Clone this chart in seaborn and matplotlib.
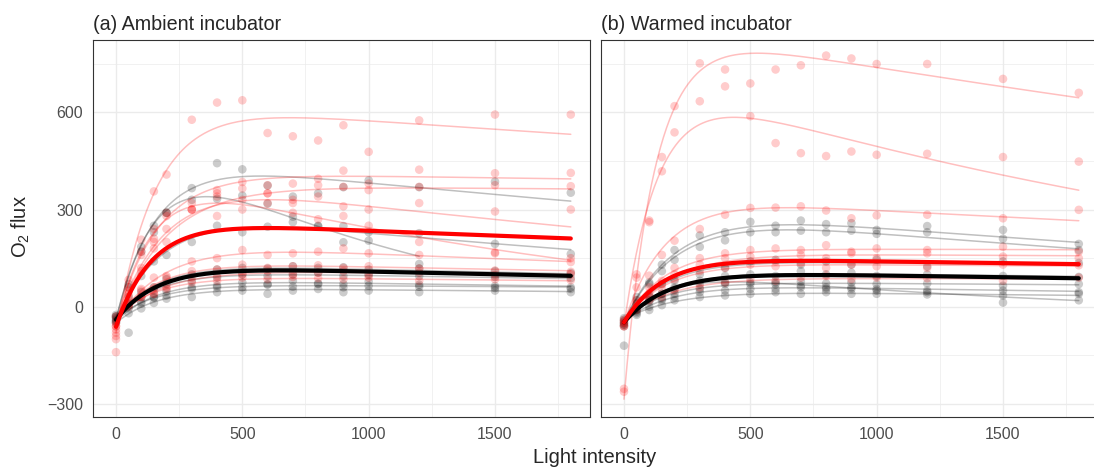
import numpy as np
import pandas as pd
import matplotlib
matplotlib.use("Agg")
import matplotlib.pyplot as plt
import seaborn as sns

# ---------------- data ----------------
light = [0, 50, 100, 150, 200, 300, 400, 500, 600, 700, 800, 900, 1000, 1200, 1500, 1800]
nan = np.nan

# (a) Ambient incubator - black replicates (O2 flux at each light level)
amb_b1 = [-35, 60, 170, 250, 290, 366, 443, 424, 374, 340, 350, 369, 390, 369, 386, 352]
amb_b2 = [-45, 70, 185, 230, 290, 330, 333, 343, 318, 261, 250, 199, 204, 132, nan, nan]
amb_b3 = [-30, 30, 95, 140, 160, 200, 250, 230, 247, 278, 248, 249, 230, 227, 194, 163]
amb_b4 = [-30, 5, 45, 60, 85, 100, 115, 120, 118, 125, 120, 122, 115, 118, 110, 104]
amb_b5 = [-40, 10, 30, 50, 70, 80, 90, 100, 95, 100, 105, 95, 98, 95, 92, 88]
amb_b6 = [-50, -20, 15, 28, 48, 60, 65, 75, 70, 80, 72, 70, 78, 68, 64, 60]
amb_b7 = [-25, -5, 10, 30, 35, 55, 60, 60, 68, 62, 70, 60, 65, 62, 58, 55]
amb_b8 = [-45, -80, -5, 12, 25, 30, 45, 50, 40, 50, 55, 45, 50, 45, 50, 45]

# (a) Ambient incubator - red replicates
amb_r1 = [-100, 83, 207, 356, 408, 577, 630, 637, 536, 526, 513, 560, 478, 575, 593, 593]
amb_r2 = [-60, 60, 170, 210, 280, 320, 360, 385, 375, 380, 395, 420, 380, 423, 412, 413]
amb_r3 = [-90, 50, 110, 180, 200, 300, 340, 365, 350, 330, 375, 370, 360, 370, 375, 372]
amb_r4 = [-70, 30, 120, 200, 240, 300, 280, 330, 350, 320, 340, 310, 300, 320, 294, 300]
amb_r5 = [-140, 40, 160, 240, 290, 300, 350, 300, 320, 290, 270, 280, 250, 200, 165, 150]
amb_r6 = [-50, 10, 55, 90, 95, 140, 150, 175, 160, 165, 170, 180, 165, 160, 168, 138]
amb_r7 = [-60, 20, 50, 60, 90, 110, 115, 130, 120, 125, 128, 120, 125, 118, 112, 108]
amb_r8 = [-80, 0, 30, 40, 55, 90, 95, 100, 110, 100, 105, 110, 100, 105, 98, 100]
amb_r9 = [-30, 5, 30, 40, 60, 75, 80, 90, 85, 92, 88, 85, 90, 80, 85, 82]

# (b) Warmed incubator - red replicates
wrm_r1 = [-253, 100, 261, 462, 619, 751, 732, 689, 732, 745, 775, 766, 749, 749, 703, 660]
wrm_r2 = [-262, 90, 266, 418, 538, 634, 680, 588, 505, 474, 465, 479, 469, 472, 462, 448]
wrm_r3 = [-60, 60, 96, 160, 204, 240, 284, 305, 306, 310, 297, 273, 282, 284, 273, 299]
wrm_r4 = [-50, 20, 60, 80, 120, 150, 165, 175, 180, 175, 190, 170, 180, 175, 185, 170]
wrm_r5 = [-60, 10, 40, 70, 100, 130, 150, 155, 140, 160, 150, 165, 150, 165, 155, 150]
wrm_r6 = [-40, 0, 30, 55, 85, 110, 120, 130, 125, 135, 120, 130, 125, 120, 130, 128]
wrm_r7 = [-45, -10, 20, 30, 50, 60, 75, 85, 80, 90, 95, 85, 90, 88, 80, 90]

# (b) Warmed incubator - black replicates
wrm_b1 = [-55, 30, 75, 130, 175, 220, 230, 262, 250, 266, 255, 258, 237, 249, 237, 194]
wrm_b2 = [-60, 20, 70, 110, 145, 185, 205, 230, 230, 235, 230, 235, 225, 230, 210, 175]
wrm_b3 = [-50, -20, 0, 20, 30, 45, 50, 55, 55, 60, 55, 60, 55, 50, 50, 45]
wrm_b4 = [-45, -25, -10, 5, 20, 30, 35, 40, 45, 40, 45, 40, 40, 38, 35, 40]
wrm_b5 = [-120, -10, 20, 40, 55, 70, 75, 70, 75, 65, 60, 55, 50, 45, 13, 20]
wrm_b6 = [-40, 10, 35, 70, 80, 100, 120, 140, 145, 130, 140, 130, 145, 125, 140, 135]
wrm_b7 = [-55, -5, 30, 40, 60, 80, 95, 100, 95, 110, 100, 105, 95, 100, 95, 92]
wrm_b8 = [-35, -15, 15, 25, 40, 55, 70, 75, 70, 78, 72, 75, 70, 72, 65, 70]

# Fitted light-response curve parameters (respiration R, gross max G,
# initial-slope rate k, photoinhibition rate d, last light level fitted)
amb_b_R = [-40, -40, -40, -35, -30, -45, -35, -50]
amb_b_G = [506, 652, 352, 170, 140, 130, 105, 110]
amb_b_k = [0.0062, 0.005, 0.005, 0.006, 0.006, 0.006, 0.006, 0.006]
amb_b_d = [0.00018, 0.001, 0.00027, 0.00012, 0.0001, 0.0001, 0.00005, 0.00007]
amb_b_end = [1800, 1200, 1800, 1800, 1800, 1800, 1800, 1800]

amb_r_R = [-80, -50, -50, -50, -60, -45, -35, -40, -30]
amb_r_G = [712, 465, 425, 465, 501, 246, 175, 155, 125]
amb_r_k = [0.0063, 0.006, 0.005, 0.005, 0.0065, 0.005, 0.006, 0.0055, 0.006]
amb_r_d = [0.000084, 0.000025, 0.000015, 0.00025, 0.0005, 0.00016, 0.0001, 0.00006, 0.00007]

wrm_r_R = [-285, -60, -50, -45, -50, -45, -40]
wrm_r_G = [1154, 788, 393, 225, 215, 180, 130]
wrm_r_k = [0.008, 0.007, 0.006, 0.006, 0.0055, 0.006, 0.0055]
wrm_r_d = [0.00012, 0.00035, 0.000122, 0.00001, 0.00002, 0.00003, 0.00002]

wrm_b_R = [-45, -45, -45, -40, -50, -45, -45, -40]
wrm_b_G = [362, 351, 115, 90, 170, 190, 155, 118]
wrm_b_k = [0.0046, 0.0045, 0.0055, 0.005, 0.006, 0.006, 0.006, 0.006]
wrm_b_d = [0.00022, 0.00025, 0.00012, 0.0001, 0.0005, 0.00005, 0.00006, 0.00005]

# mean (population) fits: R, G, k, d
amb_mean_black = [-40, 168, 0.006, 0.00012]
amb_mean_red = [-62, 330, 0.00697, 0.000106]
wrm_mean_black = [-48, 157, 0.0058, 0.00008]
wrm_mean_red = [-48, 200, 0.0065, 0.00006]

# ---------------- build tables ----------------
def curve(R, G, k, d, end=1800, n=300):
    x = np.linspace(0, end, n)
    y = R + G * (1 - np.exp(-k * x)) * np.exp(-d * x)
    return x, y

pts_rows = []
def add_pts(panel, group, name, vals):
    for L, v in zip(light, vals):
        if not np.isnan(v):
            pts_rows.append((panel, group, name, L, v))

for i, v in enumerate([amb_b1, amb_b2, amb_b3, amb_b4, amb_b5, amb_b6, amb_b7, amb_b8]):
    add_pts("a", "black", f"ab{i}", v)
for i, v in enumerate([amb_r1, amb_r2, amb_r3, amb_r4, amb_r5, amb_r6, amb_r7, amb_r8, amb_r9]):
    add_pts("a", "red", f"ar{i}", v)
for i, v in enumerate([wrm_b1, wrm_b2, wrm_b3, wrm_b4, wrm_b5, wrm_b6, wrm_b7, wrm_b8]):
    add_pts("b", "black", f"wb{i}", v)
for i, v in enumerate([wrm_r1, wrm_r2, wrm_r3, wrm_r4, wrm_r5, wrm_r6, wrm_r7]):
    add_pts("b", "red", f"wr{i}", v)
pts = pd.DataFrame(pts_rows, columns=["panel", "group", "rep", "light", "flux"])

cur_rows = []
def add_curves(panel, group, tag, Rs, Gs, ks, ds, ends=None):
    for i in range(len(Rs)):
        end = ends[i] if ends is not None else 1800
        x, y = curve(Rs[i], Gs[i], ks[i], ds[i], end)
        for a, b in zip(x, y):
            cur_rows.append((panel, group, f"{tag}{i}", a, b))

add_curves("a", "black", "ab", amb_b_R, amb_b_G, amb_b_k, amb_b_d, amb_b_end)
add_curves("a", "red", "ar", amb_r_R, amb_r_G, amb_r_k, amb_r_d)
add_curves("b", "black", "wb", wrm_b_R, wrm_b_G, wrm_b_k, wrm_b_d)
add_curves("b", "red", "wr", wrm_r_R, wrm_r_G, wrm_r_k, wrm_r_d)
curves = pd.DataFrame(cur_rows, columns=["panel", "group", "rep", "light", "flux"])

mean_rows = []
for panel, group, p in [("a", "black", amb_mean_black), ("a", "red", amb_mean_red),
                        ("b", "black", wrm_mean_black), ("b", "red", wrm_mean_red)]:
    x, y = curve(*p)
    for a, b in zip(x, y):
        mean_rows.append((panel, group, a, b))
means = pd.DataFrame(mean_rows, columns=["panel", "group", "light", "flux"])

# ---------------- plot ----------------
sns.set_theme(style="white")
plt.rcParams['font.family'] = ['Liberation Sans', 'DejaVu Sans']
plt.rcParams['mathtext.default'] = 'regular'

W, H = 1094, 470
fig = plt.figure(figsize=(W / 100, H / 100), dpi=100)
ax1 = fig.add_axes([93 / W, 53 / H, 497 / W, 377 / H])
ax2 = fig.add_axes([601 / W, 53 / H, 497 / W, 377 / H])

pal = {"black": "black", "red": "red"}
for ax, panel in [(ax1, "a"), (ax2, "b")]:
    ax.set_facecolor("white")
    ax.set_xlim(-91, 1876)
    ax.set_ylim(-340, 823)
    ax.set_xticks([0, 500, 1000, 1500])
    ax.set_xticks([250, 750, 1250, 1750], minor=True)
    ax.set_yticks([-300, 0, 300, 600])
    ax.set_yticks([-150, 150, 450, 750], minor=True)
    ax.grid(True, which="major", color="#EBEBEB", lw=1.0)
    ax.grid(True, which="minor", color="#EBEBEB", lw=0.5)
    ax.set_axisbelow(True)
    for s in ax.spines.values():
        s.set_color("#333333")
        s.set_linewidth(0.8)
    ax.tick_params(which="major", direction="out", length=3.6, width=0.8,
                   color="#333333", labelsize=11.5, labelcolor="#4D4D4D", pad=3.4)
    ax.tick_params(which="minor", length=0)

    sns.scatterplot(data=pts[pts.panel == panel], x="light", y="flux", hue="group",
                    palette=pal, alpha=0.2, s=38, linewidth=0, legend=False, ax=ax, zorder=2)
    sns.lineplot(data=curves[curves.panel == panel], x="light", y="flux", hue="group",
                 units="rep", estimator=None, palette=pal, alpha=0.25, lw=1.1,
                 legend=False, ax=ax, sort=False, zorder=3)
    m = means[means.panel == panel]
    sns.lineplot(data=m[m.group == "black"], x="light", y="flux", color="black",
                 lw=3.0, legend=False, ax=ax, sort=False, zorder=4)
    sns.lineplot(data=m[m.group == "red"], x="light", y="flux", color="red",
                 lw=3.0, legend=False, ax=ax, sort=False, zorder=5)
    ax.set_xlabel("")
    ax.set_ylabel("")

ax2.tick_params(axis="y", which="both", left=False, labelleft=False)

fig.text(93 / W, 1 - 30 / H, "(a) Ambient incubator", ha="left", va="baseline", fontsize=14.2)
fig.text(601 / W, 1 - 30 / H, "(b) Warmed incubator", ha="left", va="baseline", fontsize=14.2)
fig.text(595 / W, 1 - 463 / H, "Light intensity", ha="center", va="baseline", fontsize=14.5)
fig.text(21 / W, 1 - 227 / H, "O$_2$ flux", ha="center", va="center", rotation=90, fontsize=14.5)

fig.savefig("out.png", dpi=100)
